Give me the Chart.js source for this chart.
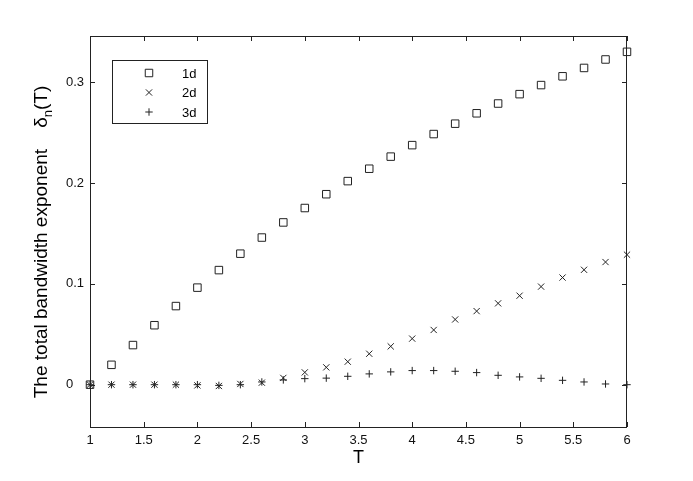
<!DOCTYPE html>
<html>
<head>
<meta charset="utf-8">
<script src="https://cdn.jsdelivr.net/npm/chart.js@4.4.1/dist/chart.umd.min.js"></script>
<style>
  html, body { margin: 0; padding: 0; background: #fff; }
</style>
</head>
<body>
<canvas id="chart" width="693" height="481"></canvas>
<script>
// temperature grid
const T = [1, 1.2, 1.4, 1.6, 1.8, 2, 2.2, 2.4, 2.6, 2.8, 3, 3.2, 3.4, 3.6, 3.8,
           4, 4.2, 4.4, 4.6, 4.8, 5, 5.2, 5.4, 5.6, 5.8, 6];

// total bandwidth exponent for each dimension
const delta1d = [0, 0.0197, 0.0393, 0.059, 0.078, 0.0963, 0.1137, 0.130, 0.146, 0.161,
                 0.1753, 0.189, 0.202, 0.2143, 0.2263, 0.2377, 0.2487, 0.259, 0.2693,
                 0.279, 0.2883, 0.2973, 0.306, 0.3143, 0.3227, 0.3303];
const delta2d = [0, 0, 0, 0, 0, -0.0007, -0.0013, 0.0007, 0.002, 0.0067, 0.0122, 0.0172,
                 0.0228, 0.0307, 0.038, 0.0457, 0.0543, 0.0647, 0.073, 0.0807, 0.0883,
                 0.0973, 0.1063, 0.114, 0.1217, 0.129];
const delta3d = [0, 0, 0, 0, 0, 0, -0.0007, 0, 0.0027, 0.0047, 0.006, 0.0065, 0.0083,
                 0.0107, 0.0127, 0.014, 0.014, 0.0133, 0.012, 0.0093, 0.0077, 0.0063,
                 0.0043, 0.0027, 0.0007, 0];

const seriesNames = ['1d', '2d', '3d'];
const xTicks = [1, 1.5, 2, 2.5, 3, 3.5, 4, 4.5, 5, 5.5, 6];
const yTicks = [0, 0.1, 0.2, 0.3];
const yTickLabels = ['0', '0.1', '0.2', '0.3'];

const ink = '#222';
const font = 'Liberation Sans, Arial, Helvetica, sans-serif';

const toPoints = (ys) => T.map((t, i) => ({ x: t, y: ys[i] }));

const markers = [
  { pointStyle: 'rect', radius: 5.3 },
  { pointStyle: 'crossRot', radius: 4.4 },
  { pointStyle: 'cross', radius: 3.7 }
];

const datasets = [delta1d, delta2d, delta3d].map((ys, i) => ({
  label: seriesNames[i],
  data: toPoints(ys),
  showLine: false,
  clip: false,
  pointStyle: markers[i].pointStyle,
  pointRadius: markers[i].radius,
  pointHoverRadius: markers[i].radius,
  pointBorderWidth: 1,
  pointBorderColor: ink,
  pointBackgroundColor: 'rgba(0,0,0,0)'
}));

// box, inward ticks, axis titles and the legend (matlab look)
const framePlugin = {
  id: 'frame',
  afterDraw(chart) {
    const { ctx, chartArea: ca, scales } = chart;
    const xs = scales.x, ys = scales.y;
    const tick = 5;

    ctx.save();
    ctx.strokeStyle = ink;
    ctx.lineWidth = 1;
    ctx.strokeRect(ca.left + 0.5, ca.top + 0.5, ca.right - ca.left - 1, ca.bottom - ca.top);

    ctx.beginPath();
    xTicks.forEach(v => {
      const px = Math.round(xs.getPixelForValue(v)) + 0.5;
      ctx.moveTo(px, ca.bottom); ctx.lineTo(px, ca.bottom - tick);
      ctx.moveTo(px, ca.top); ctx.lineTo(px, ca.top + tick);
    });
    yTicks.forEach(v => {
      const py = Math.round(ys.getPixelForValue(v)) + 0.5;
      ctx.moveTo(ca.left, py); ctx.lineTo(ca.left + tick, py);
      ctx.moveTo(ca.right, py); ctx.lineTo(ca.right - tick, py);
    });
    ctx.stroke();

    // x title
    ctx.fillStyle = '#000';
    ctx.font = '18px ' + font;
    ctx.textAlign = 'center';
    ctx.textBaseline = 'alphabetic';
    ctx.fillText('T', (ca.left + ca.right) / 2, 463);

    // y title with subscript
    const main = 'The total bandwidth exponent    \u03b4';
    const sub = 'n';
    const tail = '(T)';
    ctx.save();
    ctx.translate(40, 242);
    ctx.rotate(-Math.PI / 2);
    ctx.textAlign = 'left';
    ctx.font = '19px ' + font;
    const wMain = ctx.measureText(main).width;
    const wTail = ctx.measureText(tail).width;
    ctx.font = '13px ' + font;
    const wSub = ctx.measureText(sub).width;
    let x0 = -(wMain + wSub + wTail) / 2;
    ctx.font = '19px ' + font;
    ctx.fillText(main, x0, 7);
    ctx.font = '13px ' + font;
    ctx.fillText(sub, x0 + wMain, 12);
    ctx.font = '19px ' + font;
    ctx.fillText(tail, x0 + wMain + wSub, 7);
    ctx.restore();

    // legend
    const lx = 112, ly = 60, lw = 95, lh = 63;
    ctx.fillStyle = '#fff';
    ctx.fillRect(lx, ly, lw, lh);
    ctx.strokeStyle = ink;
    ctx.strokeRect(lx + 0.5, ly + 0.5, lw, lh);
    const rows = [73, 92.5, 112];
    chart.data.datasets.forEach((ds, i) => {
      ctx.strokeStyle = ink;
      ctx.fillStyle = 'rgba(0,0,0,0)';
      ctx.lineWidth = 1;
      Chart.helpers.drawPoint(ctx, {
        pointStyle: ds.pointStyle, radius: ds.pointRadius, borderWidth: 1, rotation: 0
      }, 149, rows[i]);
      ctx.fillStyle = '#000';
      ctx.font = '13px ' + font;
      ctx.textAlign = 'left';
      ctx.textBaseline = 'middle';
      ctx.fillText(ds.label, 182, rows[i] + 1);
    });
    ctx.restore();
  }
};

new Chart(document.getElementById('chart'), {
  type: 'scatter',
  data: { datasets },
  options: {
    responsive: false,
    animation: false,
    layout: { padding: { left: 66, right: 66, top: 36, bottom: 0 } },
    plugins: { legend: { display: false }, tooltip: { enabled: false } },
    scales: {
      x: {
        type: 'linear',
        min: 1,
        max: 6,
        grid: { display: false, drawTicks: false },
        border: { display: false },
        afterBuildTicks: (s) => { s.ticks = xTicks.map(v => ({ value: v })); },
        afterFit: (s) => { s.height = 54; },
        ticks: {
          padding: 6,
          color: '#111',
          font: { family: font, size: 13 },
          maxRotation: 0,
          callback: (v) => String(v)
        }
      },
      y: {
        type: 'linear',
        min: -0.042,
        max: 0.346,
        grid: { display: false, drawTicks: false },
        border: { display: false },
        afterBuildTicks: (s) => { s.ticks = yTicks.map(v => ({ value: v })); },
        afterFit: (s) => { s.width = 24; },
        ticks: {
          padding: 6,
          crossAlign: 'far',
          color: '#111',
          font: { family: font, size: 13 },
          callback: (v) => yTickLabels[yTicks.indexOf(v)]
        }
      }
    }
  },
  plugins: [framePlugin]
});
</script>
</body>
</html>
